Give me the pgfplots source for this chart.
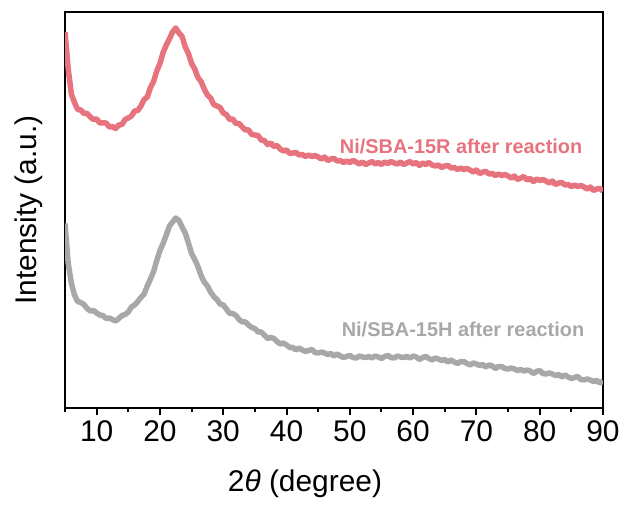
\documentclass[border=0pt]{standalone}
\usepackage{fontspec}
\setmainfont{Liberation Sans}
\usepackage{pgfplots}
\pgfplotsset{compat=1.18}
\definecolor{redline}{HTML}{E6737E}
\definecolor{greyline}{HTML}{A8A8A8}

\begin{document}
\begin{tikzpicture}
\useasboundingbox (-65bp,-102bp) rectangle (557bp,408bp);
\begin{axis}[
  scale only axis,
  width=538bp, height=396bp,
  at={(0,0)}, anchor=south west,
  xmin=5, xmax=90, ymin=0, ymax=396,
  xtick={10,20,...,90},
  minor xtick={5,15,...,85},
  ytick=\empty,
  axis line style={line width=2bp},
  tick style={line width=2bp, black},
  tick align=outside,
  xtick pos=bottom,
  major tick length=7bp,
  minor tick length=4bp,
  /pgf/number format/assume math mode=true,
  ticklabel style={font=\fontsize{30}{36}\selectfont},
  xticklabel style={yshift=-2bp},
  xlabel={2\textit{θ} (degree)},
  ylabel={Intensity (a.u.)},
  label style={font=\fontsize{30}{36}\selectfont},
  xlabel style={at={(axis description cs:0.446,-0.192)}, anchor=center},
  ylabel style={at={(axis description cs:-0.068,0.5)}, anchor=center},
  every axis plot/.append style={line width=5.5bp, line join=round},
]
% Ni/SBA-15R after reaction
\addplot[redline] coordinates {
(5.0,376)(5.5,339.5)(6.0,314)(6.5,305.5)(7.0,298.5)(7.5,298)(8.0,294.5)(8.5,294.5)(9.0,291)(9.5,288.5)
(10.0,289)(10.5,285)(11.0,285)(11.5,285)(12.0,281)(12.5,281.5)(13.0,279.5)(13.5,283)(14.0,283.5)(14.5,288.5)
(15.0,290)(15.5,292)(16.0,297)(16.5,297.5)(17.0,302)(17.5,308.5)(18.0,311)(18.5,320.5)(19.0,326.5)(19.5,337)
(20.0,344.5)(20.5,355.5)(21.0,363)(21.5,369)(22.0,376)(22.5,380)(23.0,375)(23.5,371.5)(24.0,361)(24.5,354.5)
(25.0,344.5)(25.5,339)(26.0,330.5)(26.5,326.5)(27.0,319)(27.5,313)(28.0,310)(28.5,303.5)(29.0,302)(29.5,300.5)
(30.0,295)(30.5,293.5)(31.0,288.5)(31.5,289)(32.0,284.5)(32.5,284.5)(33.0,281)(33.5,278)(34.0,278)(34.5,273.5)
(35.0,273)(35.5,272.5)(36.0,268)(36.5,267.5)(37.0,263.5)(37.5,265)(38.0,261.5)(38.5,262.5)(39.0,259)(39.5,257)
(40.0,258)(40.5,254.5)(41.0,255)(41.5,255.5)(42.0,253)(42.5,253.5)(43.0,251.5)(43.5,253)(44.0,251.5)(44.5,252.5)
(45.0,251)(45.5,249)(46.0,251)(46.5,247.5)(47.0,249)(47.5,249.5)(48.0,247)(48.5,247.5)(49.0,245.5)(49.5,247)
(50.0,245.5)(50.5,247.5)(51.0,246)(51.5,244)(52.0,246)(52.5,243.5)(53.0,245)(53.5,246.5)(54.0,244)(54.5,245.5)
(55.0,243.5)(55.5,246)(56.0,244.5)(56.5,246.5)(57.0,245)(57.5,244)(58.0,246)(58.5,243.5)(59.0,245)(59.5,246.5)
(60.0,244)(60.5,245.5)(61.0,242.5)(61.5,245)(62.0,243.5)(62.5,245.5)(63.0,243)(63.5,242)(64.0,243)(64.5,240.5)
(65.0,242)(65.5,242.5)(66.0,240)(66.5,240.5)(67.0,238.5)(67.5,240)(68.0,238.5)(68.5,239.5)(69.0,238)(69.5,236)
(70.0,238)(70.5,234.5)(71.0,236)(71.5,236.5)(72.0,234)(72.5,234.5)(73.0,232.5)(73.5,234)(74.0,232.5)(74.5,233.5)
(75.0,232)(75.5,230)(76.0,232)(76.5,228.5)(77.0,230)(77.5,231.5)(78.0,228)(78.5,229.5)(79.0,226.5)(79.5,229)
(80.0,227.5)(80.5,228.5)(81.0,227)(81.5,225)(82.0,227)(82.5,223.5)(83.0,225)(83.5,225.5)(84.0,223)(84.5,223.5)
(85.0,221.5)(85.5,223)(86.0,221.5)(86.5,222.5)(87.0,221)(87.5,219)(88.0,221)(88.5,217.5)(89.0,219)(89.5,219.5)
(90.0,217)
};
% Ni/SBA-15H after reaction
\addplot[greyline] coordinates {
(5.0,184.5)(5.5,145)(6.0,125)(6.5,113)(7.0,106.5)(7.5,105.5)(8.0,103.5)(8.5,99.5)(9.0,97)(9.5,97.5)
(10.0,95)(10.5,93)(11.0,92.5)(11.5,89.5)(12.0,90)(12.5,88.5)(13.0,87)(13.5,89.5)(14.0,92.5)(14.5,93.5)
(15.0,96)(15.5,101)(16.0,103)(16.5,106.5)(17.0,110.5)(17.5,114)(18.0,122)(18.5,129)(19.0,136.5)(19.5,147.5)
(20.0,157.5)(20.5,164.5)(21.0,173)(21.5,182)(22.0,186)(22.5,190)(23.0,187.5)(23.5,181)(24.0,175)(24.5,165)
(25.0,154.5)(25.5,148.5)(26.0,141.5)(26.5,132.5)(27.0,126)(27.5,122)(28.0,116)(28.5,111.5)(29.0,108.5)(29.5,104)
(30.0,103)(30.5,99)(31.0,94.5)(31.5,94.5)(32.0,92.5)(32.5,88.5)(33.0,86)(33.5,86)(34.0,83)(34.5,80.5)
(35.0,79.5)(35.5,76)(36.0,76)(36.5,73)(37.0,69.5)(37.5,70.5)(38.0,69.5)(38.5,66.5)(39.0,64)(39.5,65)
(40.0,63)(40.5,60.5)(41.0,60.5)(41.5,58)(42.0,60)(42.5,58)(43.0,56.5)(43.5,57.5)(44.0,58.5)(44.5,55.5)
(45.0,55)(45.5,56)(46.0,55)(46.5,53.5)(47.0,54.5)(47.5,52)(48.0,54)(48.5,52)(49.0,50.5)(49.5,51.5)
(50.0,52.5)(50.5,50.5)(51.0,50)(51.5,52)(52.0,51)(52.5,50.5)(53.0,51.5)(53.5,50)(54.0,52)(54.5,51)
(55.0,49.5)(55.5,51.5)(56.0,52.5)(56.5,50.5)(57.0,50)(57.5,52)(58.0,51)(58.5,50.5)(59.0,51.5)(59.5,50)
(60.0,52)(60.5,51)(61.0,48.5)(61.5,50.5)(62.0,51.5)(62.5,49.5)(63.0,48)(63.5,50)(64.0,49)(64.5,47.5)
(65.0,48.5)(65.5,46)(66.0,48)(66.5,46)(67.0,44.5)(67.5,46.5)(68.0,46.5)(68.5,44.5)(69.0,43)(69.5,45)
(70.0,44)(70.5,42.5)(71.0,43.5)(71.5,41)(72.0,43)(72.5,42)(73.0,39.5)(73.5,41.5)(74.0,41.5)(74.5,39.5)
(75.0,39)(75.5,40)(76.0,39)(76.5,37.5)(77.0,38.5)(77.5,37)(78.0,38)(78.5,37)(79.0,34.5)(79.5,36.5)
(80.0,37.5)(80.5,34.5)(81.0,34)(81.5,35)(82.0,34)(82.5,32.5)(83.0,33.5)(83.5,31)(84.0,33)(84.5,31)
(85.0,29.5)(85.5,30.5)(86.0,31.5)(86.5,28.5)(87.0,28)(87.5,29)(88.0,28)(88.5,26.5)(89.0,27.5)(89.5,25)
(90.0,27)
};
\node[anchor=east, text=redline, font=\fontsize{20}{24}\selectfont\bfseries]
  at (axis cs:87.3,262) {Ni/SBA-15R after reaction};
\node[anchor=east, text=greyline, font=\fontsize{20}{24}\selectfont\bfseries]
  at (axis cs:87.6,79) {Ni/SBA-15H after reaction};
\end{axis}
\end{tikzpicture}
\end{document}
